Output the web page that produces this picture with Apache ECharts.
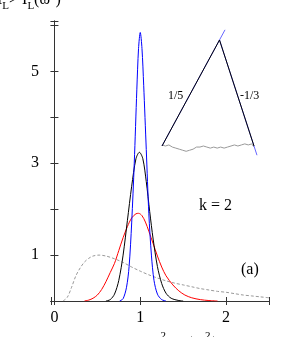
<!DOCTYPE html>
<html><head><meta charset="utf-8">
<script src="https://cdn.jsdelivr.net/npm/echarts@6/dist/echarts.min.js"></script>
<style>html,body{margin:0;padding:0;background:#fff}#c{width:299px;height:337px}</style>
</head><body><div id="c"></div>
<script>
// Main curves: [omega^2 / <omega^2>, density]
const blueData = [[0.76,0],[0.80,0.05],[0.84,0.3],[0.87,0.75],[0.90,1.7],[0.93,3.0],[0.96,4.6],[0.98,5.5],[1.00,5.85],[1.02,5.5],[1.04,4.7],[1.07,3.3],[1.10,1.9],[1.13,1.0],[1.16,0.45],[1.20,0.15],[1.25,0.03],[1.30,0]];
const blackData = [[0.60,0],[0.65,0.03],[0.70,0.15],[0.75,0.45],[0.80,1.0],[0.85,1.75],[0.90,2.5],[0.95,3.1],[0.99,3.24],[1.03,3.1],[1.07,2.6],[1.11,1.95],[1.15,1.35],[1.20,0.75],[1.25,0.38],[1.30,0.17],[1.36,0.06],[1.45,0.01],[1.50,0]];
const redData = [[0.35,0],[0.40,0.02],[0.45,0.06],[0.50,0.13],[0.55,0.25],[0.60,0.42],[0.65,0.62],[0.70,0.82],[0.75,1.1],[0.80,1.38],[0.85,1.62],[0.90,1.81],[0.95,1.9],[0.98,1.91],[1.02,1.86],[1.06,1.72],[1.10,1.52],[1.15,1.25],[1.20,0.98],[1.25,0.74],[1.30,0.55],[1.38,0.35],[1.45,0.22],[1.52,0.13],[1.60,0.07],[1.70,0.03],[1.80,0.01],[1.90,0]];
const grayData = [[0.10,0],[0.15,0.08],[0.20,0.3],[0.25,0.55],[0.30,0.72],[0.35,0.85],[0.40,0.93],[0.45,0.98],[0.52,1.0],[0.60,0.98],[0.70,0.92],[0.80,0.84],[0.90,0.74],[1.00,0.65],[1.10,0.57],[1.20,0.5],[1.30,0.44],[1.40,0.39],[1.50,0.35],[1.60,0.31],[1.70,0.27],[1.80,0.24],[1.90,0.21],[2.00,0.19],[2.10,0.16],[2.20,0.13],[2.30,0.11],[2.40,0.09],[2.50,0.07]];
// Inset (schematic units)
const insetBlack = [[0,0],[5,1],[8,0]];
const insetBlueLeft = [[0,0],[5.48,1.096]];
const insetBlueRight = [[5,1],[8.26,-0.087]];
const insetGray = [[0,0.01],[0.3,0.0],[0.6,0.01],[0.9,-0.01],[1.2,-0.02],[1.5,-0.03],[1.8,-0.04],[2.1,-0.05],[2.4,-0.04],[2.7,-0.03],[3.0,-0.01],[3.3,-0.01],[3.6,0.0],[3.9,-0.01],[4.2,-0.02],[4.5,-0.01],[4.8,-0.02],[5.1,-0.01],[5.4,-0.02],[5.7,-0.01],[6.0,0.0],[6.3,0.01],[6.6,0.0],[6.9,0.01],[7.2,0.02],[7.5,0.01],[7.8,0.02],[8.0,-0.01]];
const xTickLabels = ['0','1','2'];
const yTickLabels = ['1','3','5'];

const FONT = '"Liberation Serif", "DejaVu Serif", serif';
const AX = '#333';
const chart = echarts.init(document.getElementById('c'), null, {renderer:'canvas'});
const mainGrid = {left:51, right:30, top:21, bottom:36};
const lineSeries = (data, color, dashed, xi, yi) => ({
  type:'line', data, xAxisIndex:xi, yAxisIndex:yi, showSymbol:false, smooth:0.3, animation:false,
  lineStyle:{color, width:1, type: dashed ? [3,2] : 'solid'}
});
chart.setOption({
  animation:false,
  grid:[mainGrid, {left:162, top:18.8, width:103.5, height:148.4}],
  xAxis:[
    {gridIndex:0, type:'value', min:-0.04, max:2.5, splitNumber:2, minInterval:1,
     axisLine:{lineStyle:{color:AX}}, splitLine:{show:false},
     axisTick:{inside:true, length:4, lineStyle:{color:AX}},
     axisLabel:{margin:9, fontFamily:FONT, fontSize:16, color:'#000',
       formatter:v => xTickLabels.includes(String(v)) ? String(v) : ''}},
    {gridIndex:0, type:'value', position:'top', min:-0.04, max:2.5, splitNumber:2, minInterval:1,
     axisLine:{lineStyle:{color:AX}}, splitLine:{show:false},
     axisTick:{inside:true, length:4, lineStyle:{color:AX}}, axisLabel:{show:false}},
    {gridIndex:1, type:'value', min:0, max:9, show:false}
  ],
  yAxis:[
    {gridIndex:0, type:'value', min:0, max:6.1, interval:1,
     axisLine:{show:true, lineStyle:{color:AX}}, splitLine:{show:false},
     axisTick:{show:true, inside:true, length:4, lineStyle:{color:AX}},
     axisLabel:{margin:12, fontFamily:FONT, fontSize:16, color:'#000',
       formatter:v => yTickLabels.includes(String(v)) ? String(v) : ''}},
    {gridIndex:0, type:'value', position:'right', min:0, max:6.1, interval:1,
     axisLine:{show:true, lineStyle:{color:AX}}, splitLine:{show:false},
     axisTick:{show:true, inside:true, length:4, lineStyle:{color:AX}}, axisLabel:{show:false}},
    {gridIndex:1, type:'value', min:-0.2, max:1.2, show:false}
  ],
  series:[
    lineSeries(grayData, '#999', true, 0, 0),
    lineSeries(redData, '#ff0000', false, 0, 0),
    lineSeries(blackData, '#000', false, 0, 0),
    lineSeries(blueData, '#0000ff', false, 0, 0),
    Object.assign(lineSeries(insetGray, '#999', false, 2, 2), {smooth:false}),
    Object.assign(lineSeries(insetBlueLeft, '#6666ff', false, 2, 2), {smooth:false}),
    Object.assign(lineSeries(insetBlueRight, '#6666ff', false, 2, 2), {smooth:false}),
    Object.assign(lineSeries(insetBlack, '#000', false, 2, 2), {smooth:false})
  ],
  graphic:[
    {type:'text', left:168, top:90, style:{text:'1/5', font:'12px '+FONT, fill:'#000'}},
    {type:'text', left:240, top:90, style:{text:'-1/3', font:'12px '+FONT, fill:'#000'}},
    {type:'text', left:199, top:198, style:{text:'k = 2', font:'16px '+FONT, fill:'#000'}},
    {type:'text', left:241, top:262, style:{text:'(a)', font:'16px '+FONT, fill:'#000'}},
    {type:'text', left:-3, top:-8, style:{
      text:'{m|I}{s|L}{m|> I}{s|L}{m|(ω}{p|2}{m|)}',
      rich:{
        m:{fontFamily:FONT, fontSize:16, fill:'#000', verticalAlign:'top', lineHeight:20},
        s:{fontFamily:FONT, fontSize:11, fill:'#000', verticalAlign:'bottom', lineHeight:20},
        p:{fontFamily:FONT, fontSize:11, fill:'#000', verticalAlign:'top', lineHeight:20}
      }}},
    {type:'text', left:150, top:331, style:{
      text:'{m|ω}{p|2}{m| / 〈ω}{p|2}{m|〉}',
      rich:{
        m:{fontFamily:FONT, fontSize:16, fill:'#000', verticalAlign:'bottom', lineHeight:22},
        p:{fontFamily:FONT, fontSize:11, fill:'#000', verticalAlign:'top', lineHeight:22}
      }}}
  ]
});
</script></body></html>
